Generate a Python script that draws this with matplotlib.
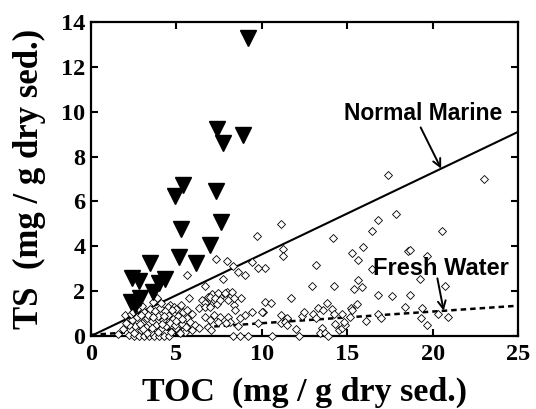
import matplotlib
matplotlib.use("Agg")
import matplotlib.pyplot as plt
import numpy as np

# Sediment samples (open diamonds): total organic carbon vs total sulfur
toc_sed = [
    17.4, 23.0, 9.7, 11.1, 11.25, 11.25, 14.15, 15.3, 15.65, 15.95, 16.45, 16.8,
    17.85, 18.55, 18.7, 19.65, 20.55, 13.2, 16.45, 19.25, 12.95, 14.2, 15.65, 15.85,
    15.4, 11.7, 16.8, 17.6, 18.7, 20.75, 13.8, 13.3, 13.6, 14.1, 14.2, 14.7,
    15.25, 15.3, 15.6, 15.15, 18.4, 19.4, 19.3, 20.3, 20.9, 19.7, 16.8, 17.0,
    16.1, 13.0, 13.15, 12.35, 12.45, 11.45, 11.15, 12.0, 13.5, 13.4, 13.7, 14.3,
    14.5, 14.7, 14.85, 13.9, 12.2, 14.8,
    7.3, 7.95, 5.6, 9.4, 7.7, 8.6, 9.0, 10.2, 9.8, 8.3, 5.75, 6.5,
    6.85, 7.1, 7.55, 7.95, 8.25, 6.65, 7.05, 7.4, 8.35, 8.45, 8.8, 9.0,
    8.7, 10.2, 10.55, 10.05, 9.4, 10.0, 11.5, 11.1, 11.35, 11.45, 6.3, 5.9,
    5.6, 6.65, 6.95, 7.2, 7.55, 7.45, 8.0, 8.15, 7.9, 5.8, 6.1, 6.3,
    5.9, 5.5, 6.85, 7.05, 8.6, 9.8, 8.3, 8.7, 9.2, 10.6, 6.65, 7.45,
    6.95, 7.25, 7.85, 7.55, 8.05, 8.35, 6.65, 6.95,
    3.85, 3.65, 4.65, 4.5, 4.85, 2.0, 2.75,
    2.2, 2.5, 2.8, 3.1, 3.4, 3.7, 4.0, 4.3, 4.55,
    2.3, 2.6, 2.9, 3.2, 3.5, 3.8, 4.1, 4.4, 4.7, 5.0, 5.3, 2.4,
    2.7, 3.0, 3.3, 3.6, 3.9, 4.2, 4.5, 4.8, 5.1, 5.4, 3.1, 3.45,
    3.75, 4.05, 4.35, 5.0, 5.25, 2.5, 3.55, 4.6, 5.2, 2.85, 3.25, 4.9,
    4.25, 2.2, 1.9, 1.6, 3.0, 4.1, 5.55, 5.6, 2.05, 2.35, 3.35, 4.75,
    2.45, 2.95, 3.65, 4.15, 4.95, 5.35, 3.05, 3.95,
]
ts_sed = [
    7.2, 7.0, 4.45, 5.0, 3.9, 3.55, 4.35, 3.7, 3.4, 3.95, 4.7, 5.15,
    5.45, 3.8, 3.85, 3.55, 4.7, 3.15, 3.0, 2.55, 2.25, 2.25, 2.5, 2.2,
    2.1, 1.7, 1.85, 1.8, 1.85, 2.25, 1.45, 1.25, 1.15, 1.2, 1.0, 0.98,
    1.25, 1.15, 1.42, 0.86, 1.3, 1.25, 0.8, 0.98, 0.85, 0.5, 1.0, 0.82,
    0.67, 0.98, 0.8, 0.88, 1.08, 0.75, 0.94, 0.3, 0.35, 0.12, 0.12, 0.53,
    0.27, 0.35, 0.5, 0.0, 0.0, 0.62,
    3.45, 3.35, 2.7, 3.3, 2.55, 2.85, 2.7, 3.05, 3.05, 3.1, 1.7, 1.6,
    1.72, 1.88, 1.75, 1.97, 1.95, 1.45, 1.38, 1.43, 1.38, 1.16, 1.68, 0.94,
    0.82, 1.53, 1.46, 1.06, 1.08, 1.08, 0.8, 0.57, 0.64, 0.49, 1.23, 1.0,
    0.82, 0.86, 0.71, 0.94, 0.86, 0.64, 0.86, 0.64, 0.57, 0.64, 0.49, 0.34,
    0.27, 0.19, 0.42, 0.27, 0.46, 0.57, 0.0, 0.0, 0.0, 0.0, 2.25, 1.9,
    1.75, 1.68, 1.9, 1.6, 1.6, 1.68, 1.3, 1.3,
    1.68, 1.53, 1.38, 1.3, 1.3, 0.94, 1.23,
    0.05, 0.0, 0.0, 0.0, 0.0, 0.0, 0.0, 0.0, 0.0,
    0.3, 0.45, 0.25, 0.4, 0.2, 0.5, 0.3, 0.45, 0.2, 0.35, 0.55, 0.7,
    0.85, 0.6, 0.8, 0.65, 0.9, 0.7, 0.95, 0.75, 0.9, 1.05, 1.05, 1.2,
    1.1, 1.25, 1.1, 1.2, 1.4, 0.15, 0.35, 0.6, 0.15, 0.55, 0.15, 0.5,
    0.9, 0.5, 0.3, 0.1, 1.35, 1.45, 0.4, 1.15, 0.6, 1.0, 0.95, 1.15,
    1.05, 0.95, 0.85, 0.55, 0.65, 0.75, 0.3, 0.2,
]

# Samples plotted as filled down-triangles
toc_tri = [9.2, 7.35, 7.7, 8.9, 5.4, 4.9, 7.3, 7.6, 5.25, 6.95, 5.15,
           6.15, 3.45, 2.4, 2.8, 4.35, 4.0, 3.65, 2.85, 2.35, 2.6]
ts_tri = [13.27, 9.25, 8.6, 8.95, 6.75, 6.25, 6.45, 5.1, 4.75, 4.05, 3.5,
          3.25, 3.25, 2.6, 2.47, 2.55, 2.35, 1.95, 1.7, 1.5, 1.4]

# Reference C/S trends
toc_ref = [0.0, 25.0]
ts_marine = [0.0, 9.1]
ts_fresh = [0.05, 1.35]

xticks = [0, 5, 10, 15, 20, 25]
yticks = [0, 2, 4, 6, 8, 10, 12, 14]

serif = ["Liberation Serif", "DejaVu Serif"]
sans = ["Liberation Sans", "DejaVu Sans"]

fig = plt.figure(figsize=(5.36, 4.09), dpi=100)
ax = fig.add_axes([0.1698, 0.1785, 0.7966, 0.7677])

ax.plot(toc_ref, ts_marine, color="black", lw=1.5, zorder=2)
ax.plot(toc_ref, ts_fresh, color="black", lw=1.8, ls=(0, (2.2, 1.6)), zorder=2)

ax.plot(toc_sed, ts_sed, ls="none", marker="D", ms=4.5, mfc="white",
        mec="black", mew=0.6, clip_on=False, zorder=3)
ax.plot(toc_tri, ts_tri, ls="none", marker="v", ms=11, color="black",
        clip_on=False, zorder=4)

ax.set_xlim(0, 25)
ax.set_ylim(0, 14)
ax.set_xticks(xticks)
ax.set_yticks(yticks)
ax.set_xticklabels([str(v) for v in xticks], fontfamily=serif,
                   fontweight="bold", fontsize=17.5)
ax.set_yticklabels([str(v) for v in yticks], fontfamily=serif,
                   fontweight="bold", fontsize=17.5)
ax.tick_params(direction="in", length=5, width=1.5, top=True, right=True)
ax.tick_params(axis="x", pad=6)
ax.tick_params(axis="y", pad=4)

for s in ax.spines.values():
    s.set_linewidth(1.6)

ax.set_xlabel("TOC  (mg / g dry sed.)", fontfamily=serif, fontweight="bold",
              fontsize=24.5, labelpad=8)
ax.set_ylabel("TS  (mg / g dry sed.)", fontfamily=serif, fontweight="bold",
              fontsize=25, labelpad=11)

ax.text(19.44, 9.94, "Normal Marine", ha="center", va="center",
        fontfamily=sans, fontweight="bold", fontsize=16.5)
ax.annotate("", xy=(20.5, 0.364 * 20.5), xytext=(19.3, 9.3),
            arrowprops=dict(arrowstyle="->", color="black", lw=1.4,
                            shrinkA=0, shrinkB=0,
                            mutation_scale=14))

ax.text(20.49, 3.03, "Fresh Water", ha="center", va="center",
        fontfamily=sans, fontweight="bold", fontsize=17)
ax.annotate("", xy=(20.65, 0.05 + 0.052 * 20.65), xytext=(20.28, 2.57),
            arrowprops=dict(arrowstyle="->", color="black", lw=1.4,
                            shrinkA=0, shrinkB=0,
                            mutation_scale=14))

fig.savefig("out.png", dpi=100)
